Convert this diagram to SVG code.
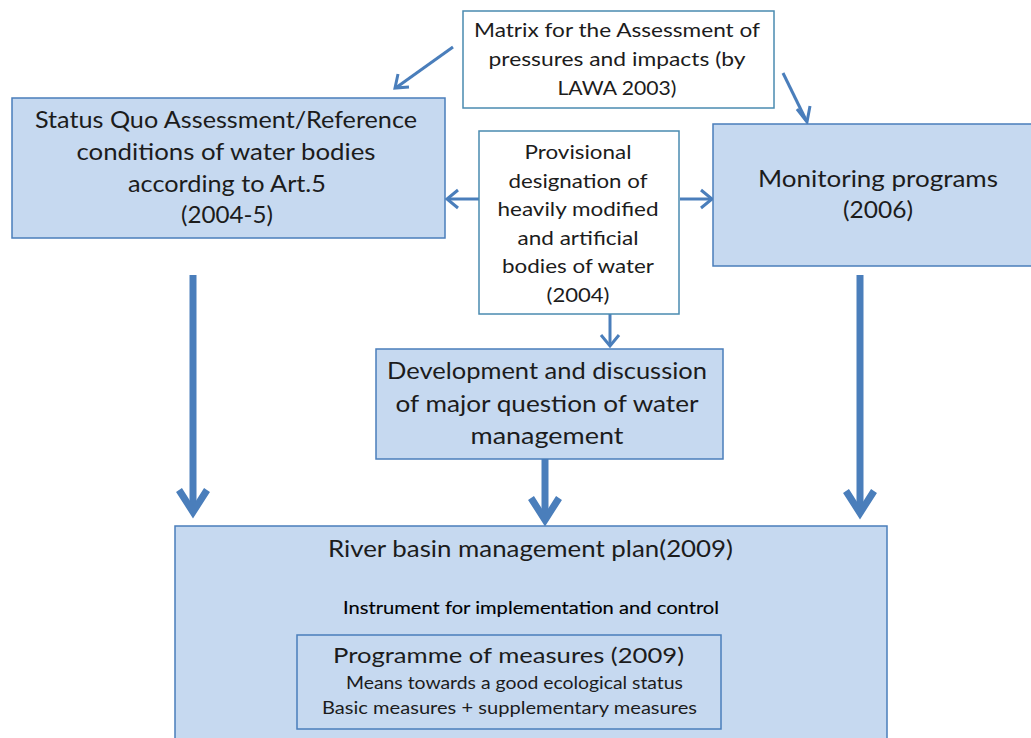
<svg xmlns="http://www.w3.org/2000/svg" width="1031" height="738" viewBox="0 0 1031 738">
  <style>
    text { font-family: Lato, "Open Sans", "Liberation Sans", sans-serif; fill: #1c1c1c; text-anchor: middle; }
    .blue { fill: #c6d9f0; stroke: #4a7ebb; stroke-width: 1.5; }
    .white { fill: #ffffff; stroke: #4a8bb0; stroke-width: 1.5; }
    .thin { fill: none; stroke: #4a7ebb; stroke-width: 3; stroke-linecap: butt; stroke-linejoin: miter; }
    .thick { fill: none; stroke: #4a7ebb; stroke-width: 7; stroke-linecap: butt; stroke-linejoin: miter; }
    .t22 { font-size: 23px; }
    .t20 { font-size: 20px; }
    .t16 { font-size: 17px; }
  </style>
  <rect width="1031" height="738" fill="#ffffff"/>

  <!-- connectors -->
  <g id="connectors">
    <!-- matrix to status quo -->
    <path class="thin" d="M453,47 L397,87"/>
    <path class="thin" d="M398,74 L395,88 L409,87"/>
    <!-- matrix to monitoring -->
    <path class="thin" d="M783,73 L806,120"/>
    <path class="thin" d="M797,109 L807,122 L810,106"/>
    <!-- provisional to status quo -->
    <path class="thin" d="M479,199 L448,199"/>
    <path class="thin" d="M458,190 L447,199 L458,208"/>
    <!-- provisional to monitoring -->
    <path class="thin" d="M680,199 L711,199"/>
    <path class="thin" d="M701,190 L712,199 L701,208"/>
    <!-- provisional to development -->
    <path class="thin" d="M610,314 L610,345"/>
    <path class="thin" d="M601,335 L610,346 L619,335"/>
    <!-- into the river basin plan -->
    <path class="thick" d="M193,275 L193,510"/>
    <path class="thick" d="M179,490 L193,512 L207,490"/>
    <path class="thick" d="M545,459 L545,518"/>
    <path class="thick" d="M531,498 L545,520 L559,498"/>
    <path class="thick" d="M860,275 L860,511"/>
    <path class="thick" d="M846,491 L860,513 L874,491"/>
  </g>

  <g id="matrix">
    <rect class="white" x="463" y="11" width="311" height="97"/>
    <text class="t20" x="617" y="37" textLength="286" lengthAdjust="spacingAndGlyphs">Matrix for the Assessment  of</text>
    <text class="t20" x="617" y="66" textLength="257" lengthAdjust="spacingAndGlyphs">pressures  and impacts (by</text>
    <text class="t20" x="617" y="95" textLength="119" lengthAdjust="spacingAndGlyphs">LAWA 2003)</text>
  </g>

  <g id="status-quo">
    <rect class="blue" x="12" y="98" width="433" height="140"/>
    <text class="t22" x="226" y="128" textLength="382" lengthAdjust="spacingAndGlyphs">Status Quo Assessment/Reference</text>
    <text class="t22" x="226" y="160" textLength="299" lengthAdjust="spacingAndGlyphs">conditions of water bodies</text>
    <text class="t22" x="227" y="192" textLength="198" lengthAdjust="spacingAndGlyphs">according to Art.5</text>
    <text class="t22" x="227" y="223" textLength="92" lengthAdjust="spacingAndGlyphs">(2004-5)</text>
  </g>

  <g id="provisional">
    <rect class="white" x="479" y="131" width="200" height="183"/>
    <text class="t20" x="578" y="159" textLength="107" lengthAdjust="spacingAndGlyphs">Provisional</text>
    <text class="t20" x="578" y="188" textLength="139" lengthAdjust="spacingAndGlyphs">designation of</text>
    <text class="t20" x="578" y="216" textLength="161" lengthAdjust="spacingAndGlyphs">heavily modified</text>
    <text class="t20" x="578" y="245" textLength="121" lengthAdjust="spacingAndGlyphs">and artificial</text>
    <text class="t20" x="578" y="273" textLength="152" lengthAdjust="spacingAndGlyphs">bodies of water</text>
    <text class="t20" x="578" y="302" textLength="63" lengthAdjust="spacingAndGlyphs">(2004)</text>
  </g>

  <g id="monitoring">
    <rect class="blue" x="713" y="124" width="330" height="142"/>
    <text x="878" y="187" font-size="24" textLength="240" lengthAdjust="spacingAndGlyphs">Monitoring programs</text>
    <text x="878" y="218" font-size="24" textLength="70" lengthAdjust="spacingAndGlyphs">(2006)</text>
  </g>

  <g id="development">
    <rect class="blue" x="376" y="349" width="347" height="110"/>
    <text class="t22" x="547" y="379" textLength="320" lengthAdjust="spacingAndGlyphs">Development and discussion</text>
    <text class="t22" x="547" y="412" textLength="303" lengthAdjust="spacingAndGlyphs">of major question of water</text>
    <text class="t22" x="547" y="444" textLength="153" lengthAdjust="spacingAndGlyphs">management</text>
  </g>

  <g id="river-basin-plan">
    <rect class="blue" x="175" y="526" width="712" height="230"/>
    <text class="t22" x="530.5" y="557" textLength="405" lengthAdjust="spacingAndGlyphs">River basin management plan(2009)</text>
    <text x="531" y="614" font-size="17" style="fill:#000;stroke:#000;stroke-width:0.12" textLength="376" lengthAdjust="spacingAndGlyphs">Instrument for implementation and control</text>
  </g>

  <g id="programme">
    <rect class="blue" x="297" y="635" width="424" height="94"/>
    <text x="508.5" y="663" font-size="22" textLength="351" lengthAdjust="spacingAndGlyphs">Programme of measures (2009)</text>
    <text class="t16" x="514.5" y="689" textLength="337" lengthAdjust="spacingAndGlyphs">Means towards a good ecological status</text>
    <text class="t16" x="509.5" y="714" textLength="375" lengthAdjust="spacingAndGlyphs">Basic measures + supplementary measures</text>
  </g>
</svg>
